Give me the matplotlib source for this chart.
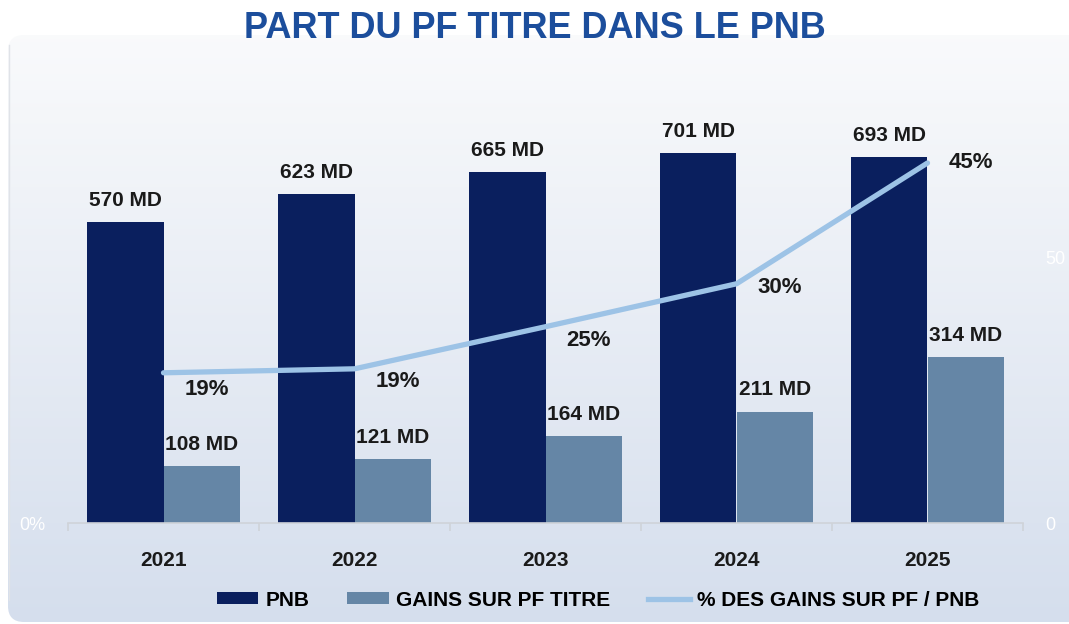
import numpy as np
import matplotlib
matplotlib.use("Agg")
import matplotlib.pyplot as plt
from matplotlib.patches import FancyBboxPatch
from matplotlib.lines import Line2D
from matplotlib.patches import Patch
from matplotlib.ticker import FixedLocator

plt.rcParams['font.family'] = ['Liberation Sans', 'DejaVu Sans']

# ---- data ----
years = ["2021", "2022", "2023", "2024", "2025"]
pnb = [570, 623, 665, 701, 693]
gains = [108, 121, 164, 211, 314]
pct = [18.9, 19.4, 24.7, 30.1, 45.3]
pct_labels = ["19%", "19%", "25%", "30%", "45%"]

title = "PART DU PF TITRE DANS LE PNB"
legend_labels = ["PNB", "GAINS SUR PF TITRE", "% DES GAINS SUR PF / PNB"]

# ---- styles ----
c_pnb = "#0A1F5E"
c_gains = "#6586A6"
c_line = "#9DC3E6"
c_title = "#1C4E9C"
c_text = "#1A1A1A"
pct_dy = [-12, -9, -10, -3, 0]  # label vertical offsets (points)

W, H = 1069, 624
fig = plt.figure(figsize=(W / 100, H / 100), dpi=100)
fig.patch.set_facecolor("white")

# background panel with vertical gradient and rounded corner
bg = fig.add_axes([0, 0, 1, 1], zorder=-10)
bg.set_xlim(0, W)
bg.set_ylim(H, 0)
bg.axis("off")
grad = np.linspace(0, 1, 256)[:, None]
top = np.array([0.978, 0.981, 0.987])
bot = np.array([0.835, 0.872, 0.930])
img = top[None, None, :] * (1 - grad[:, :, None]) + bot[None, None, :] * grad[:, :, None]
panel = FancyBboxPatch((8, 35), 1120, 587, boxstyle="round,pad=0,rounding_size=16",
                       facecolor="none", edgecolor="none")
bg.add_patch(panel)
im = bg.imshow(img, extent=[8, 1128, 622, 35], aspect="auto", interpolation="bilinear")
im.set_clip_path(panel)
bg.plot([8.5, 8.5], [45, 600], color="#e0e3e8", linewidth=1.0)

# main axes
left, right = 68 / W, 1023 / W
bottom, topp = (H - 523) / H, (H - 101) / H
ax = fig.add_axes([left, bottom, right - left, topp - bottom])
ax.set_facecolor("none")
x = np.arange(len(years))
bw = 0.4
b1 = ax.bar(x - bw / 2, pnb, bw, color=c_pnb, zorder=2)
b2 = ax.bar(x + bw / 2, gains, bw, color=c_gains, zorder=2)
ax.set_xlim(-0.5, len(years) - 0.5)
ax.set_ylim(0, 800)

for rect, v in zip(b1, pnb):
    ax.annotate(f"{v} MD", (rect.get_x() + rect.get_width() / 2, v), xytext=(0, 9),
                textcoords="offset points", ha="center", va="bottom",
                fontsize=15, fontweight="bold", color=c_text)
for rect, v in zip(b2, gains):
    ax.annotate(f"{v} MD", (rect.get_x() + rect.get_width() / 2, v), xytext=(0, 9),
                textcoords="offset points", ha="center", va="bottom",
                fontsize=15, fontweight="bold", color=c_text)

for s in ["top", "left", "right"]:
    ax.spines[s].set_visible(False)
ax.spines["bottom"].set_color("#cfd3d9")
ax.spines["bottom"].set_linewidth(1.2)
ax.set_xticks(x)
ax.set_xticklabels(years, fontsize=15, fontweight="bold", color=c_text)
ax.tick_params(axis="x", which="major", length=0, pad=20)
ax.xaxis.set_minor_locator(FixedLocator(np.arange(-0.5, len(years), 1.0)))
ax.tick_params(axis="x", which="minor", length=6, color="#cfd3d9", width=1.2)
ax.set_yticks([0])
ax.set_yticklabels(["0%"], fontsize=13, color="white")
ax.tick_params(axis="y", length=0, pad=16)

# line axis (percent)
ax2 = ax.twinx()
ax2.set_ylim(0, 53.1)
ax2.axis("off")
ax2.plot(x, pct, color=c_line, linewidth=3.8, solid_capstyle="round",
         solid_joinstyle="round", zorder=3)
for xi, v, lab, dy in zip(x, pct, pct_labels, pct_dy):
    ax2.annotate(lab, (xi, v), xytext=(31, dy), textcoords="offset points",
                 ha="center", va="center", fontsize=16, fontweight="bold", color=c_text)

# faint right axis
ax3 = ax.twinx()
ax3.set_ylim(0, 79.6)
ax3.set_yticks([0, 50])
ax3.set_yticklabels(["0", "50"], fontsize=13, color="white")
ax3.tick_params(axis="y", length=0, pad=16)
for s in ax3.spines.values():
    s.set_visible(False)

fig.text(0.5, 1 - 29 / H, title, ha="center", va="center", fontsize=26,
         fontweight="bold", color=c_title)

handles = [Patch(facecolor=c_pnb), Patch(facecolor=c_gains),
           Line2D([0], [0], color=c_line, linewidth=3.8)]
fig.legend(handles, legend_labels, loc="center", bbox_to_anchor=(598 / W, 1 - 600 / H),
           ncol=3, frameon=False, prop={"size": 15, "weight": "bold"},
           handlelength=2.0, handleheight=0.5, handletextpad=0.35, columnspacing=1.8)

fig.savefig("out.png", dpi=100)
